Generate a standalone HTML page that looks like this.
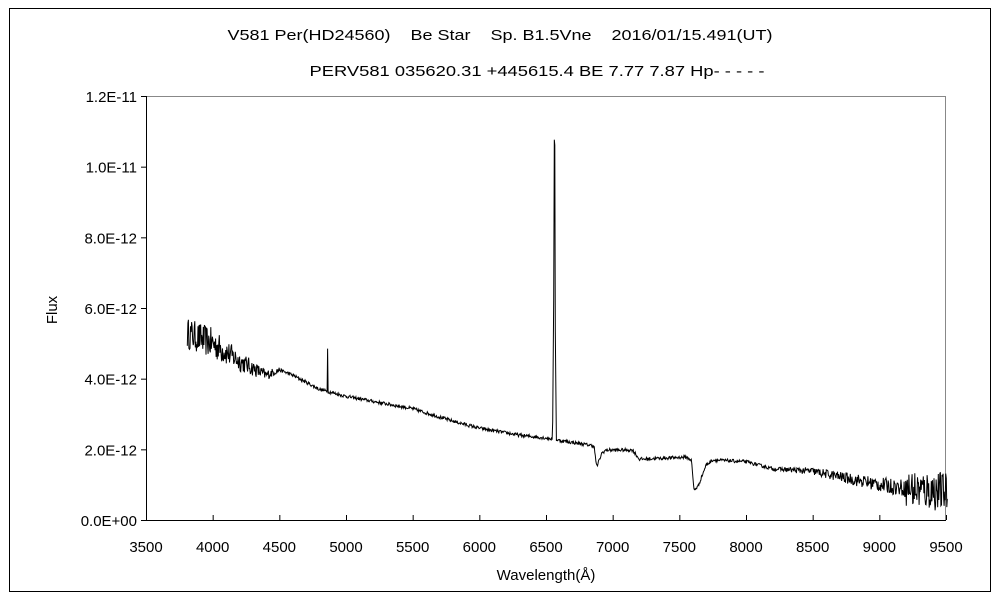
<!DOCTYPE html>
<html><head><meta charset="utf-8"><style>
body{margin:0;background:#fff;}
svg text{font-family:"Liberation Sans","Noto Sans CJK JP",sans-serif;font-size:15px;fill:#000;white-space:pre;}
</style></head><body>
<svg id="s" width="1000" height="600" xmlns="http://www.w3.org/2000/svg">
<rect x="0" y="0" width="1000" height="600" fill="#fff"/>
<rect x="9.5" y="8.5" width="981" height="583" fill="none" stroke="#000" stroke-width="1"/>
<text x="500" y="40" text-anchor="middle" textLength="545" lengthAdjust="spacingAndGlyphs">V581 Per(HD24560)    Be Star    Sp. B1.5Vne    2016/01/15.491(UT)</text>
<text x="537" y="76" text-anchor="middle" textLength="455" lengthAdjust="spacingAndGlyphs">PERV581 035620.31 +445615.4 BE 7.77 7.87 Hp- - - - -</text>
<line x1="146" y1="96.5" x2="946" y2="96.5" stroke="#888"/>
<line x1="945.5" y1="96" x2="945.5" y2="520" stroke="#888"/>
<line x1="146.5" y1="96" x2="146.5" y2="521" stroke="#000"/>
<line x1="146" y1="520.5" x2="946" y2="520.5" stroke="#000"/>
<g id="ticks"></g>
<text x="57" y="310" text-anchor="middle" transform="rotate(-90 57 310)">Flux</text>
<text x="546" y="580" text-anchor="middle">Wavelength(Å)</text>
<path id="sp" fill="none" stroke="#000" stroke-width="1"/>
</svg>
<script>
var NS="http://www.w3.org/2000/svg",g=document.getElementById('ticks');
function X(w){return 146+(w-3500)*800/6000;}
function Y(f){return 520-f*424/12;}
function el(t,a,txt){var e=document.createElementNS(NS,t);for(var k in a)e.setAttribute(k,a[k]);if(txt)e.textContent=txt;g.appendChild(e);}
var yl=["0.0E+00","2.0E-12","4.0E-12","6.0E-12","8.0E-12","1.0E-11","1.2E-11"];
for(var i=0;i<7;i++){var y=Y(i*2);el('line',{x1:141,x2:146,y1:y+.5,y2:y+.5,stroke:'#000'});el('text',{x:137,y:y+6,'text-anchor':'end'},yl[i]);}
for(var w=3500;w<=9500;w+=500){var x=X(w);el('line',{x1:x+.5,x2:x+.5,y1:515,y2:520,stroke:'#000'});el('text',{x:x,y:552,'text-anchor':'middle'},""+w);}
var A=[[3800,5.3],[4000,5.0],[4200,4.5],[4400,4.1],[4500,4.25],[4600,4.1],[4800,3.7],[5000,3.5],[5500,3.15],[5800,2.8],[6000,2.6],[6300,2.4],[6550,2.3],[6600,2.25],[6860,2.1],[6880,1.5],[6920,1.9],[6950,1.98],[7150,1.98],[7200,1.72],[7550,1.78],[7590,1.7],[7610,0.85],[7640,0.95],[7700,1.55],[7750,1.7],[8000,1.65],[8200,1.45],[8500,1.38],[9000,1.0],[9300,0.85],[9500,0.8]];
function cont(w){for(var i=0;i<A.length-1;i++){if(w<=A[i+1][0]){var t=(w-A[i][0])/(A[i+1][0]-A[i][0]);return A[i][1]+t*(A[i+1][1]-A[i][1]);}}return A[A.length-1][1];}
function amp(w){if(w<4000)return 0.55;if(w<4500)return 0.55-(w-4000)/500*0.45;if(w<8200)return 0.06;if(w<9200)return 0.06+(w-8200)/1000*0.25;return 0.7;}
var s=12345;function r(){s=(s*16807)%2147483647;return s/2147483647-0.5;}
var d="";
for(var w=3810;w<=9510;w+=4){var f=cont(w)+r()*amp(w)*1.6;
if(Math.abs(w-4862)<3)f=4.85;
var h=Math.abs(w-6563);if(h<14)f+= h<5?8.5-h*0.05:(14-h)/9*4;
if(f<0)f=0;d+=(d?"L":"M")+X(w).toFixed(1)+" "+Y(f).toFixed(1);}
document.getElementById('sp').setAttribute('d',d);
</script>
</body></html>
